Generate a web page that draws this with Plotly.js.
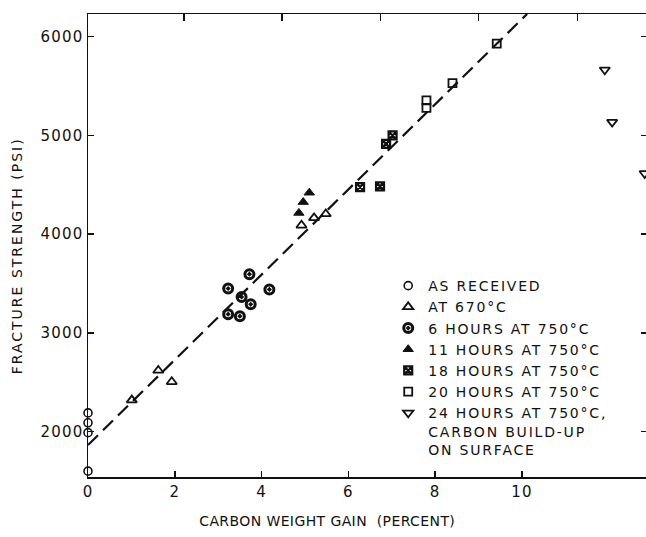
<!DOCTYPE html>
<html>
<head>
<meta charset="utf-8">
<script src="https://cdn.plot.ly/plotly-3.0.1.min.js"></script>
<style>
html,body{margin:0;padding:0;background:#fff;}
#chart{width:646px;height:537px;}
#chart .legendtext{letter-spacing:1.8px;}
#chart .legend .scrollbox{clip-path:none !important;}
#chart .xtick text, #chart .ytick text{letter-spacing:1.2px;}
#chart .annotation[data-index="1"] text{letter-spacing:2px;}
#chart .annotation[data-index="0"] text{letter-spacing:0.4px;}
</style>
</head>
<body>
<div id="chart"></div>
<script>
// Carbon weight gain (percent) and fracture strength (psi)
const asReceivedX = [0, 0, 0, 0];
const asReceivedY = [2190, 2090, 1990, 1600];

const at670X = [1.01, 1.62, 1.93, 4.92, 5.21, 5.48];
const at670Y = [2320, 2620, 2505, 4090, 4165, 4205];

const hours6X = [3.23, 3.72, 4.18, 3.54, 3.75, 3.23, 3.50];
const hours6Y = [3450, 3595, 3440, 3365, 3290, 3190, 3170];

const hours11X = [5.10, 4.96, 4.86];
const hours11Y = [4420, 4325, 4215];

const hours18X = [6.27, 6.73, 6.87, 7.02];
const hours18Y = [4477, 4484, 4915, 5000];

const hours20X = [7.80, 7.80, 8.40, 9.42];
const hours20Y = [5355, 5280, 5530, 5930];

const hours24X = [11.91, 12.08, 12.83];
const hours24Y = [5665, 5135, 4615];

const fitX = [0, 10.12];
const fitY = [1865, 6230];

const legendNames = [
  "AS RECEIVED",
  "AT 670°C",
  "6 HOURS AT 750°C",
  "11 HOURS AT 750°C",
  "18 HOURS AT 750°C",
  "20 HOURS AT 750°C",
  "24 HOURS AT 750°C,<br>CARBON BUILD-UP<br>ON SURFACE"
];

const yTicks = [2000, 3000, 4000, 5000, 6000];
const xTicks = [0, 2, 4, 6, 8, 10];
const topTicks = [2.21, 4.47, 6.74, 9.0, 11.28];

const FONT = "DejaVu Sans, Liberation Sans, sans-serif";
const INK = "#111";

function pts(x, y, name, symbol, size, lw, fill) {
  return {
    x: x, y: y, name: name, type: "scatter", mode: "markers",
    marker: {symbol: symbol, size: size, color: fill || INK, line: {color: INK, width: lw}},
    cliponaxis: false
  };
}

const traces = [
  {x: fitX, y: fitY, type: "scatter", mode: "lines", showlegend: false, hoverinfo: "skip",
   line: {color: INK, width: 2.2, dash: "14px,7px"}},
  pts(asReceivedX, asReceivedY, legendNames[0], "circle-open", 8, 1.6),
  pts(at670X, at670Y, legendNames[1], "triangle-up-open", 9, 1.8),
  pts(hours6X, hours6Y, legendNames[2], "circle-open-dot", 9, 3),
  pts(hours11X, hours11Y, legendNames[3], "triangle-up", 9, 1),
  pts(hours18X, hours18Y, legendNames[4], "square-x-open", 8, 2.2),
  pts(hours20X, hours20Y, legendNames[5], "square-open", 8, 1.8),
  pts(hours24X, hours24Y, legendNames[6], "triangle-down-open", 9, 1.8)
];
traces[7].cliponaxis = true;

const layout = {
  width: 646, height: 537,
  margin: {l: 88, r: 0, t: 14, b: 60},
  paper_bgcolor: "#fff", plot_bgcolor: "#fff",
  font: {family: FONT, size: 14, color: INK},
  showlegend: true,
  legend: {
    x: 0.538, y: 0.447, xanchor: "left", yanchor: "top",
    bgcolor: "rgba(0,0,0,0)", borderwidth: 0,
    font: {family: FONT, size: 14, color: INK},
    valign: "top", traceorder: "normal"
  },
  xaxis: {
    range: [0, 12.86], tickvals: xTicks, ticktext: xTicks.map(String),
    ticks: "inside", ticklen: 6, tickwidth: 1.5, tickcolor: INK,
    showline: true, linecolor: INK, linewidth: 1.5, mirror: false,
    showgrid: false, zeroline: false,
    tickfont: {family: FONT, size: 15, color: INK}
  },
  xaxis2: {
    overlaying: "x", side: "top", range: [0, 12.86], tickvals: topTicks,
    showticklabels: false, ticks: "inside", ticklen: 7, tickwidth: 1.5, tickcolor: INK,
    showline: true, linecolor: INK, linewidth: 1.5, showgrid: false, zeroline: false
  },
  yaxis: {
    range: [1541, 6230], tickvals: yTicks, ticktext: yTicks.map(String),
    ticks: "inside", ticklen: 6, tickwidth: 1.5, tickcolor: INK,
    showline: true, linecolor: INK, linewidth: 1.5, mirror: false,
    showgrid: false, zeroline: false,
    tickfont: {family: FONT, size: 15, color: INK}
  },
  yaxis2: {
    overlaying: "y", side: "right", range: [1541, 6230], tickvals: yTicks,
    showticklabels: false, ticks: "inside", ticklen: 5, tickwidth: 1.5, tickcolor: INK,
    showline: false, showgrid: false, zeroline: false
  },
  annotations: [
    {text: "CARBON WEIGHT GAIN \u00a0(PERCENT)", xref: "paper", yref: "paper",
     x: 0.428, y: -0.095, xanchor: "center", yanchor: "middle", showarrow: false,
     font: {family: FONT, size: 14, color: INK}},
    {text: "FRACTURE STRENGTH (PSI)", xref: "paper", yref: "paper",
     x: -0.128, y: 0.478, xanchor: "center", yanchor: "middle", showarrow: false, textangle: -90,
     font: {family: FONT, size: 14, color: INK}}
  ]
};

traces.push({x: [], y: [], xaxis: "x2", yaxis: "y2", type: "scatter", mode: "markers", showlegend: false, hoverinfo: "skip"});

Plotly.newPlot("chart", traces, layout, {displayModeBar: false, staticPlot: true});
</script>
</body>
</html>
